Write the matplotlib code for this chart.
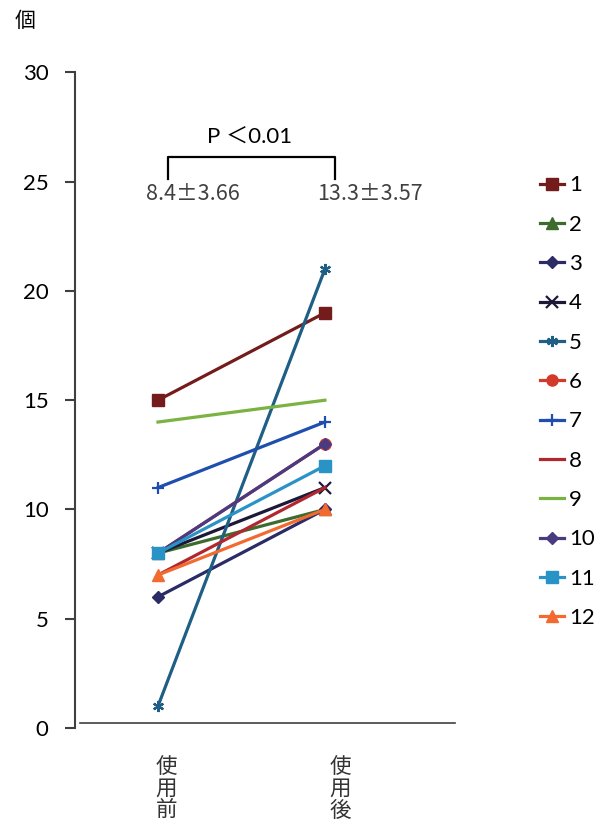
import matplotlib

matplotlib.use("Agg")
import matplotlib.pyplot as plt

plt.rcParams["font.family"] = ["Lato", "Noto Sans CJK JP", "DejaVu Sans"]

# before / after counts for each subject
stages = ["使\n用\n前", "使\n用\n後"]
subjects = ["1", "2", "3", "4", "5", "6", "7", "8", "9", "10", "11", "12"]
before = [15, 8, 6, 8, 1, 8, 11, 7, 14, 8, 8, 7]
after = [19, 10, 10, 11, 21, 13, 14, 11, 15, 13, 12, 10]
colors = ["#741c1c", "#3d6b2e", "#2b2b66", "#1c1838", "#1f5f85", "#d23a2b",
          "#1f4fae", "#b0282e", "#7ab342", "#4a3a82", "#2a93c6", "#f26a2f"]
markers = ["s", "^", "D", "x", (6, 2, 0), "o", "+", None, None, "D", "s", "^"]
sizes = [8, 8, 6, 8, 8, 8, 9, 0, 0, 6, 8, 8]
yticks = [0, 5, 10, 15, 20, 25, 30]
mean_labels = ["8.4±3.66", "13.3±3.57"]
p_label = "P \uff1c0.01"

fig = plt.figure(figsize=(6, 8.32), dpi=100)
ax = fig.add_axes([0.125, 0.125, 0.633, 0.788])

for i, name in enumerate(subjects):
    thin = markers[i] in ("x", "+", (6, 2, 0))
    ax.plot([0, 1], [before[i], after[i]], color=colors[i], lw=2.3,
            marker=markers[i], markersize=sizes[i],
            markeredgewidth=1.6 if thin else 1, label=name)

ax.set_xlim(-0.497, 1.778)
ax.set_ylim(0, 30)
ax.set_yticks(yticks)
ax.set_yticklabels([str(t) for t in yticks], fontsize=16)
ax.set_xticks([0.05, 1.09])
ax.set_xticklabels(stages, fontsize=15.5, color="#333333", linespacing=1.0,
                   family=["Noto Sans CJK JP"])
ax.tick_params(axis="x", length=0, pad=20)
ax.tick_params(axis="y", length=7, width=1.5, color="#404040", pad=12)

for s in ["top", "right", "bottom"]:
    ax.spines[s].set_visible(False)
ax.spines["left"].set_linewidth(1.5)
ax.spines["left"].set_color("#404040")
ax.plot([-0.467, 1.778], [0.25, 0.25], color="#404040", lw=1.2, clip_on=False)

# significance bracket
ax.plot([0.06, 0.06, 1.06, 1.06], [25.1, 26.15, 26.15, 25.1], color="black",
        lw=1.6, clip_on=False)
ax.text(0.55, 26.55, p_label, ha="center", va="bottom", fontsize=16)
for xpos, lab in zip([0.21, 1.27], mean_labels):
    ax.text(xpos, 24.45, lab, ha="center", va="center", fontsize=15.5,
            color="#404040", family=["Noto Sans CJK JP"])

fig.text(0.025, 0.975, "個", ha="left", va="center", fontsize=15,
         family=["Noto Sans CJK JP"])

ax.legend(loc="upper left", bbox_to_anchor=(0.885, 0.8), bbox_transform=fig.transFigure,
          frameon=False, fontsize=16, handlelength=1.1, handletextpad=0.2,
          labelspacing=0.87, borderaxespad=0)

fig.savefig("out.png", dpi=100)
